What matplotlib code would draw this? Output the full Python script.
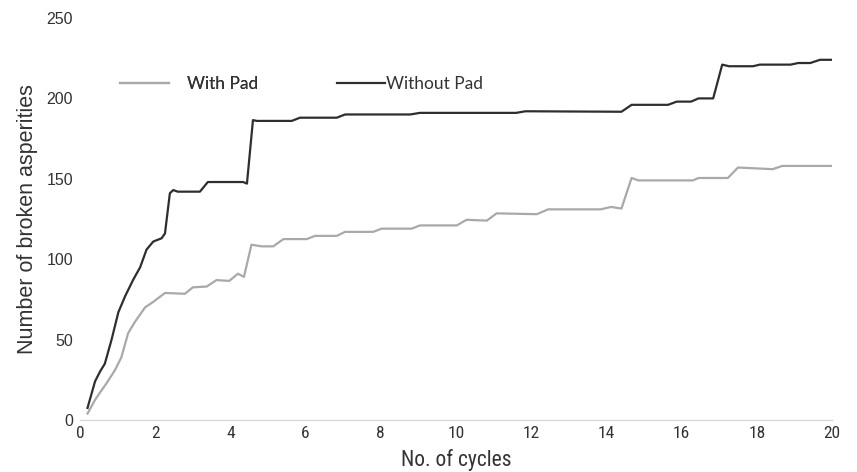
import matplotlib
matplotlib.use("Agg")
import matplotlib.pyplot as plt
from matplotlib import font_manager

# Cumulative count of broken asperities over loading cycles
cycles_without_pad = [0.2, 0.4, 0.53, 0.66, 0.84, 1.02, 1.2, 1.41, 1.6, 1.77, 1.95, 2.17, 2.26,
                      2.39, 2.48, 2.6, 3.19, 3.4, 4.34, 4.44, 4.6, 4.7, 5.63, 5.85, 6.83, 7.05,
                      8.78, 9.04, 11.6, 11.85, 14.4, 14.67, 15.64, 15.87, 16.25, 16.45, 16.84,
                      17.08, 17.26, 17.9, 18.08, 18.9, 19.1, 19.42, 19.68, 20.0]
broken_without_pad = [7.5, 24, 30, 35, 50, 67, 77, 87, 95, 106, 111, 113, 116,
                      141, 143, 142, 142, 148, 148, 147, 186.5, 186, 186, 188, 188, 190,
                      190, 191, 191, 192, 191.7, 196, 196, 198, 198, 200, 200,
                      221, 220, 220, 221, 221, 222, 222, 224, 224]

cycles_with_pad = [0.2, 0.4, 0.53, 0.71, 0.93, 1.1, 1.28, 1.46, 1.73, 1.95, 2.26, 2.79, 3.0,
                   3.37, 3.63, 3.97, 4.2, 4.36, 4.56, 4.83, 5.14, 5.41, 6.03, 6.25, 6.83,
                   7.05, 7.8, 8.02, 8.82, 9.04, 10.02, 10.28, 10.82, 11.08, 12.15, 12.45,
                   13.85, 14.12, 14.4, 14.67, 14.85, 16.3, 16.45, 17.23, 17.5, 18.42, 18.68, 20.0]
broken_with_pad = [4, 12.5, 17, 23, 31, 39, 54, 61, 70, 73.5, 79, 78.5, 82.5,
                   83, 87, 86.5, 91, 89, 109, 108, 108, 112.5, 112.5, 114.5, 114.5,
                   117, 117, 119, 119, 121, 121, 124.5, 124, 128.5, 128, 131,
                   131, 132.5, 131.5, 150.5, 149, 149, 150.5, 150.5, 157, 156, 158, 158]

x_ticks = [0, 2, 4, 6, 8, 10, 12, 14, 16, 18, 20]
y_ticks = [0, 50, 100, 150, 200, 250]


def pick_font(candidates):
    for name in candidates:
        try:
            font_manager.findfont(font_manager.FontProperties(family=name),
                                  fallback_to_default=False)
            return name
        except Exception:
            continue
    return "DejaVu Sans"


narrow = pick_font(["Liberation Sans Narrow", "Roboto Condensed", "Liberation Sans"])
regular = pick_font(["Liberation Sans", "Arial"])
legend_font = pick_font(["Lato", "Open Sans"])

fig = plt.figure(figsize=(8.57, 4.72), dpi=100)
ax = fig.add_axes([80 / 857, 1 - 420 / 472, (832 - 80) / 857, (420 - 18) / 472])

line_with, = ax.plot(cycles_with_pad, broken_with_pad, color="#a9a9a9", lw=1.6,
                     solid_joinstyle="round", label="With Pad")
line_without, = ax.plot(cycles_without_pad, broken_without_pad, color="#2e2e2e", lw=1.6,
                        solid_joinstyle="round", label="Without Pad")

ax.set_xlim(0, 20)
ax.set_ylim(0, 250)
ax.set_xticks(x_ticks)
ax.set_yticks(y_ticks)
ax.set_xticklabels([str(v) for v in x_ticks], fontfamily=narrow, fontsize=12.5, color="#333333")
ax.set_yticklabels([str(v) for v in y_ticks], fontfamily=regular, fontsize=11.5, color="#333333")
ax.tick_params(axis="both", length=0)
ax.tick_params(axis="x", pad=4)
ax.tick_params(axis="y", pad=5)

for side in ["top", "right", "left"]:
    ax.spines[side].set_visible(False)
ax.spines["bottom"].set_color("#d9d9d9")
ax.spines["bottom"].set_linewidth(1.0)

ax.set_xlabel("No. of cycles", fontfamily=narrow, fontsize=15.5, color="#333333", labelpad=6)
ax.set_ylabel("Number of broken asperities", fontfamily=regular, fontsize=15.5,
              color="#333333", labelpad=6)

leg_props = dict(family=legend_font, size=12.5)
leg1 = fig.legend(handles=[line_with], loc="center left",
                  bbox_to_anchor=(120 / 857, 1 - 84 / 472), frameon=False,
                  borderpad=0, borderaxespad=0, handlelength=2.85, handletextpad=1.0,
                  prop=leg_props)
for t in leg1.get_texts():
    t.set_color("#333333")
leg2 = fig.legend(handles=[line_without], loc="center left",
                  bbox_to_anchor=(337 / 857, 1 - 84 / 472), frameon=False,
                  borderpad=0, borderaxespad=0, handlelength=2.75, handletextpad=0.05,
                  prop=leg_props)
for t in leg2.get_texts():
    t.set_color("#333333")
fig.add_artist(leg1)

fig.savefig("out.png", dpi=100)
